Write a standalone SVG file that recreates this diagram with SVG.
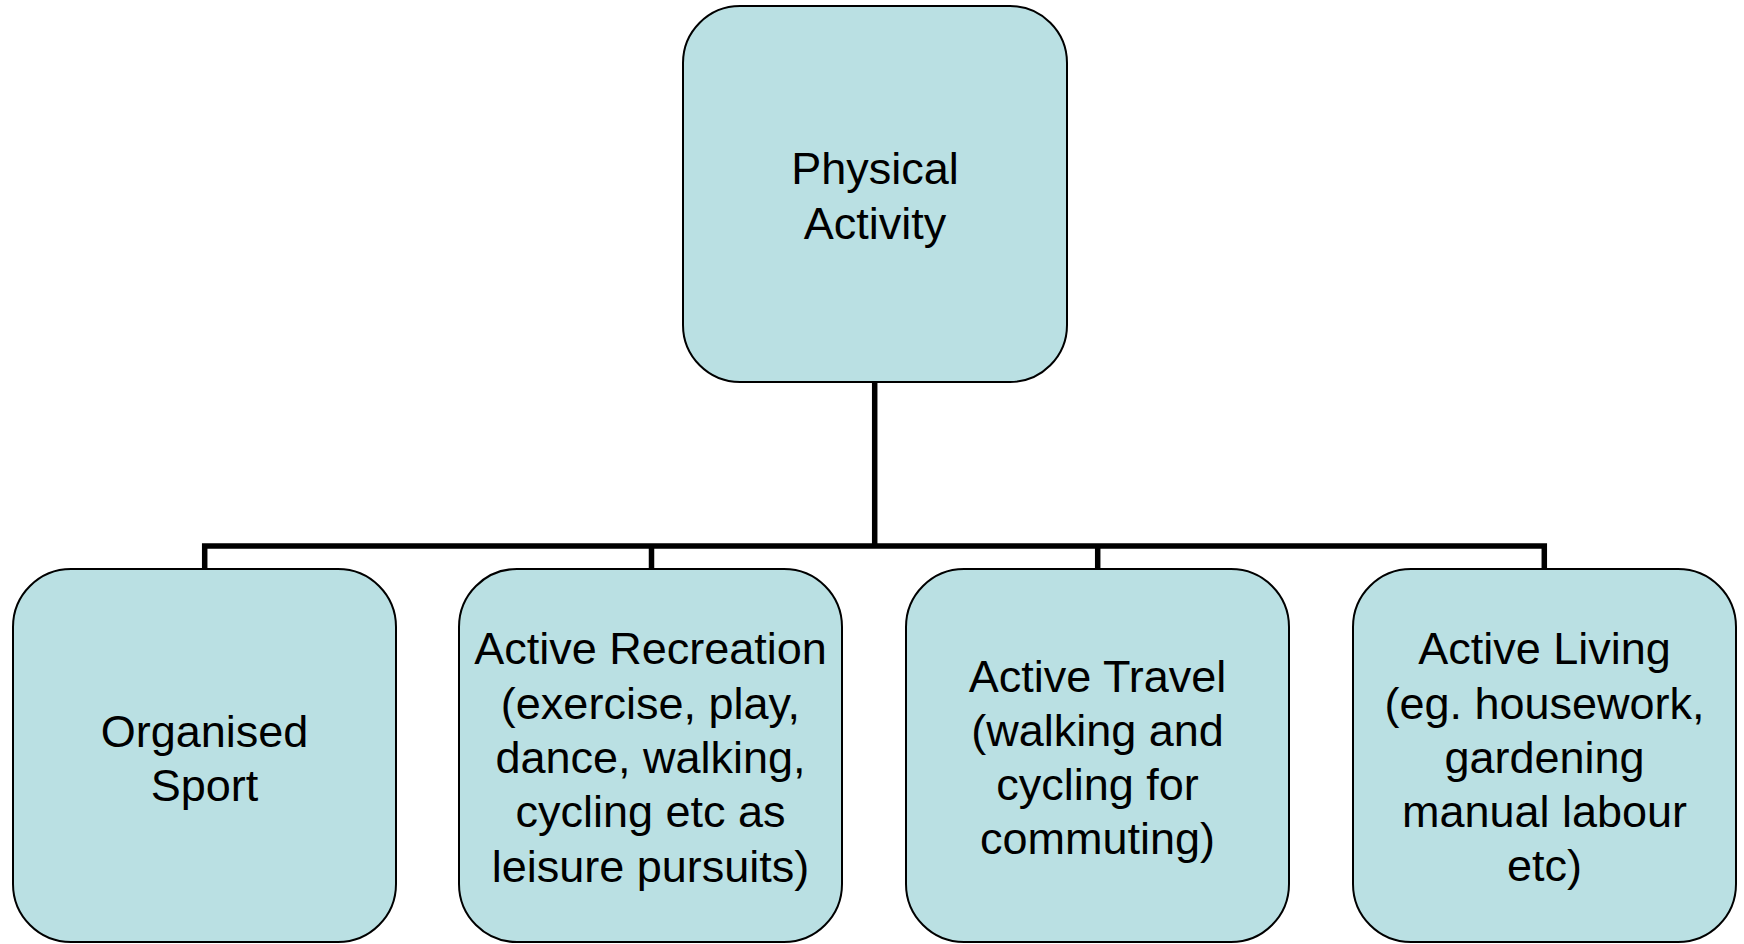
<svg xmlns="http://www.w3.org/2000/svg" width="1744" height="944" viewBox="0 0 1744 944">
<style>
.box{fill:#BAE0E3;stroke:#000;stroke-width:2}
.lbl{font-family:"Liberation Sans",Arial,sans-serif;font-size:45px;fill:#000;text-anchor:middle}
.conn{fill:none;stroke:#000;stroke-width:5.5}
</style>
<rect width="1744" height="944" fill="#fff"/>
<g id="connectors">
<path class="conn" d="M874.7 382 V546"/>
<path class="conn" d="M204.7 569 V546 H1544.3 V569"/>
<path class="conn" d="M651.5 546 V569"/>
<path class="conn" d="M1097.7 546 V569"/>
</g>
<g id="physical-activity">
<rect class="box" x="683" y="6" width="384" height="376" rx="57" ry="57"/>
<text class="lbl" x="875" y="184">Physical</text>
<text class="lbl" x="875" y="239">Activity</text>
</g>
<g id="organised-sport">
<rect class="box" x="13" y="569" width="383" height="373" rx="58" ry="58"/>
<text class="lbl" x="204.5" y="747">Organised</text>
<text class="lbl" x="204.5" y="801">Sport</text>
</g>
<g id="active-recreation">
<rect class="box" x="459" y="569" width="383" height="373" rx="58" ry="58"/>
<text class="lbl" x="650.5" y="664">Active Recreation</text>
<text class="lbl" x="650.5" y="718.5">(exercise, play,</text>
<text class="lbl" x="650.5" y="773">dance, walking,</text>
<text class="lbl" x="650.5" y="827">cycling etc as</text>
<text class="lbl" x="650.5" y="881.5">leisure pursuits)</text>
</g>
<g id="active-travel">
<rect class="box" x="906" y="569" width="383" height="373" rx="58" ry="58"/>
<text class="lbl" x="1097.5" y="691.5">Active Travel</text>
<text class="lbl" x="1097.5" y="745.5">(walking and</text>
<text class="lbl" x="1097.5" y="799.5">cycling for</text>
<text class="lbl" x="1097.5" y="853.5">commuting)</text>
</g>
<g id="active-living">
<rect class="box" x="1353" y="569" width="383" height="373" rx="58" ry="58"/>
<text class="lbl" x="1544.5" y="664">Active Living</text>
<text class="lbl" x="1544.5" y="718.5">(eg. housework,</text>
<text class="lbl" x="1544.5" y="772.5">gardening</text>
<text class="lbl" x="1544.5" y="827">manual labour</text>
<text class="lbl" x="1544.5" y="881">etc)</text>
</g>
</svg>
